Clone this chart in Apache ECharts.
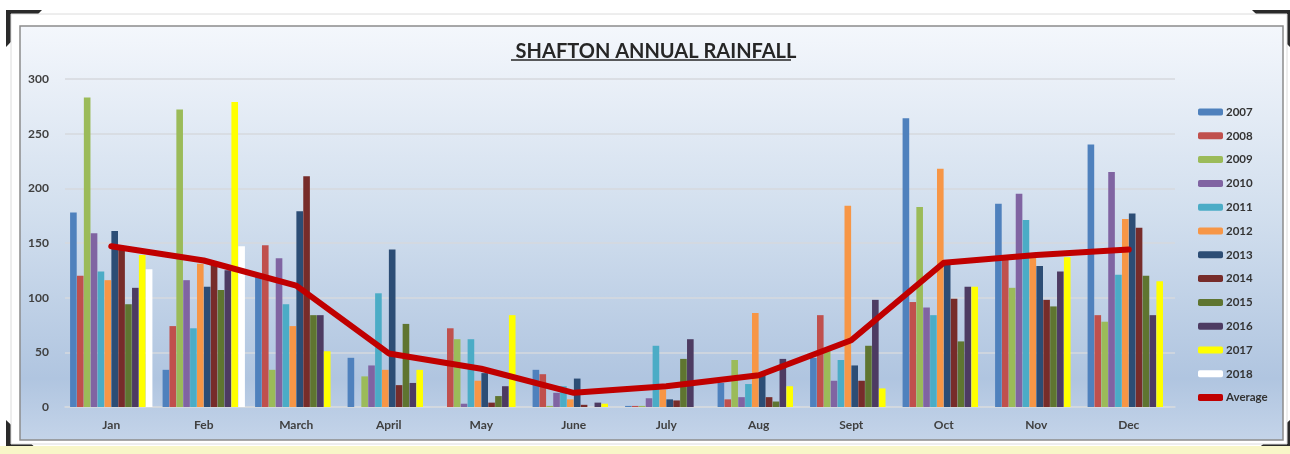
<!DOCTYPE html>
<html>
<head>
<meta charset="utf-8">
<script src="https://cdn.jsdelivr.net/npm/echarts@6/dist/echarts.min.js"></script>
<style>
html,body{margin:0;padding:0;background:#ffffff;}
#chart{width:1290px;height:454px;}
</style>
</head>
<body>
<div id="chart"></div>
<script>
const months = ['Jan','Feb','March','April','May','June','July','Aug','Sept','Oct','Nov','Dec'];
const years = ['2007','2008','2009','2010','2011','2012','2013','2014','2015','2016','2017','2018'];
const yTicks = [0, 50, 100, 150, 200, 250, 300];

const r2007 = [178, 34, 120, 45, null, 34, 1, 22, 45, 264, 186, 240];
const r2008 = [120, 74, 148, null, 72, 30, 1, 7, 84, 96, 135, 84];
const r2009 = [283, 272, 34, 28, 62, 1, 1, 43, 53, 183, 109, 78];
const r2010 = [159, 116, 136, 38, 3, 13, 8, 9, 24, 91, 195, 215];
const r2011 = [124, 72, 94, 104, 62, 19, 56, 21, 43, 84, 171, 121];
const r2012 = [116, 131, 74, 34, 24, 7, 16, 86, 184, 218, 137, 172];
const r2013 = [161, 110, 179, 144, 31, 26, 7, 30, 38, 132, 129, 177];
const r2014 = [145, 130, 211, 20, 4, 2, 6, 9, 24, 99, 98, 164];
const r2015 = [94, 107, 84, 76, 10, null, 44, 5, 56, 60, 92, 120];
const r2016 = [109, 125, 84, 22, 19, 4, 62, 44, 98, 110, 124, 84];
const r2017 = [139, 279, 51, 34, 84, 3, null, 19, 17, 110, 137, 115];
const r2018 = [126, 147, null, null, null, null, null, null, null, null, null, null];
const average = [147, 134, 111, 49, 35, 13, 19, 29, 61, 132, 139, 144];

const yearData = [r2007, r2008, r2009, r2010, r2011, r2012, r2013, r2014, r2015, r2016, r2017, r2018];
const yearColors = ['#4F81BD','#C0504D','#9BBB59','#8064A2','#4BACC6','#F79646','#2C4D75','#772C2A','#5F7530','#4D3B62','#FFFF00','#FFFFFF'];

const FONT = 'Lato, "Open Sans", sans-serif';
const chart = echarts.init(document.getElementById('chart'));

const series = years.map((y, i) => ({
  name: y,
  type: 'bar',
  data: yearData[i],
  barGap: '4%',
  barCategoryGap: '11%',
  itemStyle: { color: yearColors[i] },
  z: 2
}));
series.push({
  name: 'Average',
  type: 'line',
  data: average,
  symbol: 'none',
  lineStyle: { color: '#C00000', width: 6, cap: 'round', join: 'round' },
  itemStyle: { color: '#C00000' },
  z: 5
});

const legendData = years.map(y => ({ name: y }));
legendData.push({ name: 'Average', icon: 'roundRect', itemStyle: { color: '#C00000' } });

chart.setOption({
  animation: false,
  textStyle: { fontFamily: FONT },
  title: {
    text: 'SHAFTON ANNUAL RAINFALL',
    left: 651,
    top: 37,
    textAlign: 'center',
    textStyle: { fontFamily: FONT, fontSize: 20, fontWeight: 'bold', color: '#262626' }
  },
  graphic: [
    { type: 'polygon', z: -20, shape: { points: [[6,10],[42,10],[6,47]] }, style: { fill: '#2a2a2a' } },
    { type: 'polygon', z: -20, shape: { points: [[6,420],[6,454],[42,454]] }, style: { fill: '#2a2a2a' } },
    { type: 'polygon', z: -20, shape: { points: [[1252,10],[1290,10],[1290,47]] }, style: { fill: '#2a2a2a' } },
    { type: 'polygon', z: -20, shape: { points: [[1290,420],[1290,454],[1252,454]] }, style: { fill: '#2a2a2a' } },
    { type: 'rect', z: -19, shape: { x: 0, y: 446, width: 1290, height: 8 }, style: { fill: '#f8f6c8' } },
    { type: 'rect', z: -18, shape: { x: 11, y: 14, width: 1276, height: 430 }, style: { fill: '#ffffff', stroke: '#dcdcdc', lineWidth: 1 } },
    { type: 'rect', z: -17, shape: { x: 20, y: 26, width: 1263, height: 414 },
      style: {
        fill: new echarts.graphic.LinearGradient(0, 0, 0, 1, [
          { offset: 0, color: '#f4f7fc' },
          { offset: 0.45, color: '#d2dfee' },
          { offset: 0.85, color: '#b0c5e0' },
          { offset: 1, color: '#c4d4e9' }
        ]),
        stroke: '#8c8c8c', lineWidth: 1.5
      }
    },
    { type: 'line', z: 10, shape: { x1: 511, y1: 60, x2: 791, y2: 60 }, style: { stroke: '#262626', lineWidth: 1.5 } }
  ],
  legend: {
    orient: 'vertical',
    left: 1193,
    top: 101,
    itemWidth: 25,
    itemHeight: 7,
    itemGap: 11.8,
    data: legendData,
    textStyle: { fontFamily: FONT, fontSize: 11.5, fontWeight: 'bold', color: '#333333', padding: [0,0,0,-2] }
  },
  grid: { left: 65, right: 115, top: 79, bottom: 47, containLabel: false },
  xAxis: {
    type: 'category',
    data: months,
    axisTick: { show: false },
    axisLine: { lineStyle: { color: '#d4d9e0', width: 1.5 } },
    axisLabel: { margin: 12, fontFamily: FONT, fontSize: 12, fontWeight: 'bold', color: '#404040' }
  },
  yAxis: {
    type: 'value',
    min: 0,
    max: 300,
    interval: 50,
    axisLine: { show: false },
    axisTick: { show: false },
    splitLine: { lineStyle: { color: '#d6d9de', width: 1.5 } },
    axisLabel: {
      margin: 16, fontFamily: FONT, fontSize: 12, fontWeight: 'bold', color: '#404040',
      formatter: v => yTicks.includes(v) ? String(v) : ''
    }
  },
  series: series
});
</script>
</body>
</html>
